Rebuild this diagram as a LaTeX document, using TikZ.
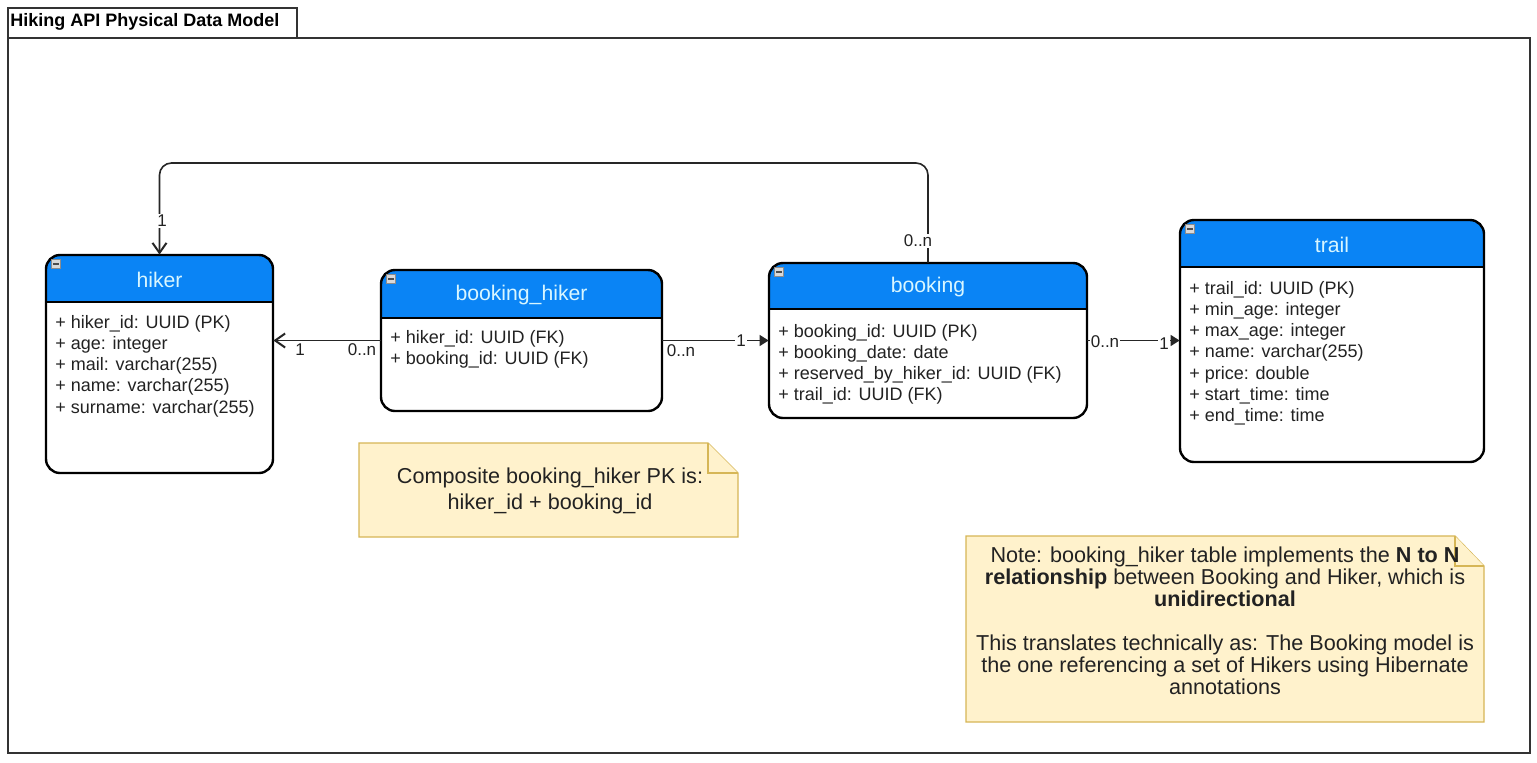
\documentclass[tikz,border=0pt]{standalone}
\usepackage{fontspec}
\setmainfont{Liberation Sans}
\usetikzlibrary{arrows.meta,fit}
\definecolor{hdrblue}{HTML}{0A84F5}
\definecolor{hdrtxt}{HTML}{D8F6FF}
\definecolor{notefill}{HTML}{FFF2CC}
\definecolor{noteline}{HTML}{D6B656}
\definecolor{txtgray}{HTML}{222222}
\tikzset{
  boxline/.style={line width=1.2pt, draw=black},
  hdrtext/.style={text=hdrtxt, font=\fontsize{10.6}{12}\selectfont, inner sep=0pt},
  rowtext/.style={text=txtgray, font=\fontsize{9}{10}\selectfont, inner sep=0pt},
  mult/.style={fill=white, text=txtgray, font=\fontsize{8.5}{9}\selectfont, inner sep=0.6pt},
  conn/.style={line width=0.8pt, draw=black!85},
  openarrow/.style={-{Straight Barb[length=5pt,width=7pt,line width=1pt]}},
  fillarrow/.style={-{Triangle[length=4.5pt,width=5.5pt]}},
  notebox/.style={fill=notefill, draw=noteline, line width=0.6pt},
  notetext/.style={text=txtgray, align=center, inner sep=0pt},
}
\newcommand\erbox[7]{%
  \node[fit={(#2,#3) (#4,#5)}, inner sep=0pt] (#1) {};
  \begin{scope}
    \clip[rounded corners=7pt] (#2,#3) rectangle (#4,#5);
    \fill[white] (#2,#3) rectangle (#4,#5);
    \fill[hdrblue] (#2,#3) rectangle (#4,#6);
  \end{scope}
  \draw[boxline] (#2,#6) -- (#4,#6);
  \draw[boxline, rounded corners=7pt] (#2,#3) rectangle (#4,#5);
  \node[hdrtext] at ({(#2+#4)/2},{(#3+#6)/2+1}) {#7};
  \fill[black!45] (#2+5,#3+4) rectangle (#2+15,#3+14);
  \fill[black!15] (#2+6,#3+5) rectangle (#2+14,#3+13);
  \fill[black!70] (#2+7,#3+8) rectangle (#2+13,#3+10);
}
\newcommand\rowlist[3]{%
  \foreach \t [count=\i from 0] in {#3}
    \node[rowtext, anchor=base west] at (#1, {#2+21.3*\i}) {\t};
}
\begin{document}
\begin{tikzpicture}[x=0.5pt, y=-0.5pt]
\useasboundingbox (0,0) rectangle (1537,762);
\fill[white] (0,0) rectangle (1537,762);
% frame
\node[fit={(8,38) (1530,753)}, inner sep=0pt, draw=black!80, line width=0.6pt] (frame) {};
\node[fit={(8,8) (297,38)}, inner sep=0pt, draw=black!80, line width=0.6pt] (titlebox) {};
\node[anchor=west, font=\bfseries\fontsize{9}{10}\selectfont, inner sep=0pt] (title) at (10,22) {Hiking API Physical Data Model};

% entities
\erbox{hiker}{46}{255}{273}{473}{302}{hiker}
\rowlist{55}{328}{+ hiker\_id: UUID (PK), + age: integer, + mail: varchar(255), + name: varchar(255), + surname: varchar(255)}

\erbox{bh}{381}{270}{662}{411}{318}{booking\_hiker}
\rowlist{390}{343}{+ hiker\_id: UUID (FK), + booking\_id: UUID (FK)}

\erbox{booking}{769}{263}{1087}{418}{309}{booking}
\rowlist{778}{337}{+ booking\_id: UUID (PK), + booking\_date: date, + reserved\_by\_hiker\_id: UUID (FK), + trail\_id: UUID (FK)}

\erbox{trail}{1180}{220}{1484}{462}{267}{trail}
\rowlist{1189}{294}{+ trail\_id: UUID (PK), + min\_age: integer, + max\_age: integer, + name: varchar(255), + price: double, + start\_time: time, + end\_time: time}

% connectors
\draw[conn, openarrow] (bh.west) -- (bh.west -| hiker.east);
\node[mult] at (300,350) {1};
\node[mult] at (362,350) {0..n};

\draw[conn, fillarrow] (bh.east) -- (bh.east -| booking.west);
\node[mult] at (681,351) {0..n};
\node[mult] at (741,341) {1};

\draw[conn, fillarrow] (booking.east) -- (booking.east -| trail.west);
\node[mult] at (1105,342) {0..n};
\node[mult] at (1164,344) {1};

\coordinate (topy) at (0,163);
\draw[conn, openarrow, rounded corners=6pt] (booking.north) -- (booking.north |- topy) -- (hiker.north |- topy) -- (hiker.north);
\node[mult] at (162,221) {1};
\node[mult] at (918,241) {0..n};

% notes
\draw[notebox] (359,443) -- (708,443) -- (738,473) -- (738,537) -- (359,537) -- cycle;
\draw[notebox] (708,443) -- (708,473) -- (738,473);
\node[fit={(359,443) (738,537)}, inner sep=0pt] (note1) {};
\node[notetext, font=\fontsize{10.8}{13}\selectfont] at (550,491) {Composite booking\_hiker PK is:\\hiker\_id + booking\_id};

\draw[notebox] (966,536) -- (1455,536) -- (1484,566) -- (1484,722) -- (966,722) -- cycle;
\draw[notebox] (1455,536) -- (1455,566) -- (1484,566);
\node[fit={(966,536) (1484,722)}, inner sep=0pt] (note2) {};
\node[notetext, font=\fontsize{10.8}{11}\selectfont] at (1225,621) {Note: booking\_hiker table implements the \textbf{N to N}\\\textbf{relationship} between Booking and Hiker, which is\\\textbf{unidirectional}\\[11pt]This translates technically as: The Booking model is\\the one referencing a set of Hikers using Hibernate\\annotations};
\end{tikzpicture}
\end{document}
